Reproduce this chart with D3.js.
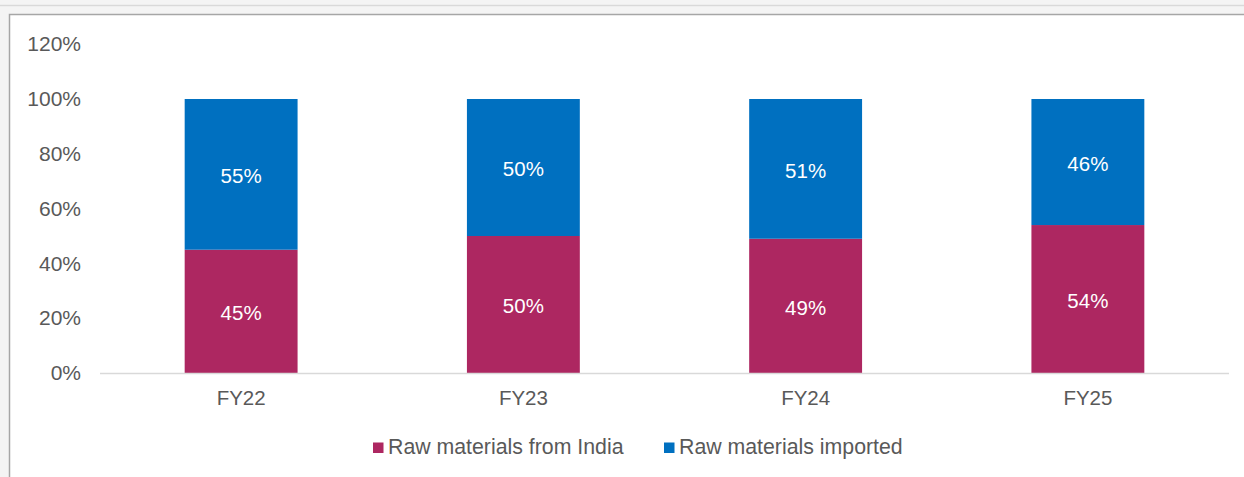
<!DOCTYPE html>
<html>
<head>
<meta charset="utf-8">
<script src="https://cdn.jsdelivr.net/npm/d3@7"></script>
<style>
  html, body { margin: 0; padding: 0; background: #f4f4f4; }
  svg { display: block; }
  text { font-family: "Liberation Sans", Arial, sans-serif; }
</style>
</head>
<body>
<svg id="chart" width="1244" height="477"></svg>
<script>
// Share of raw materials by source, per fiscal year
const categories = ["FY22", "FY23", "FY24", "FY25"];
const fromIndia = [45, 50, 49, 54];
const imported = [55, 50, 51, 46];
const seriesNames = ["Raw materials from India", "Raw materials imported"];
const seriesColors = ["#ad2761", "#0070c0"];
const yTicks = [0, 20, 40, 60, 80, 100, 120];

const svg = d3.select("#chart");
const W = 1244, H = 477;

// page chrome: top strip and card frame
svg.append("rect").attr("x", 0).attr("y", 0).attr("width", W).attr("height", H).attr("fill", "#f4f4f4");
svg.append("line").attr("x1", 0).attr("x2", W).attr("y1", 5.5).attr("y2", 5.5)
  .attr("stroke", "#d9d9d9").attr("stroke-width", 1.5);
svg.append("rect").attr("x", 9.5).attr("y", 14.5).attr("width", W + 10).attr("height", H + 10)
  .attr("fill", "#ffffff").attr("stroke", "#a6a6a6").attr("stroke-width", 1.5);

const x = d3.scaleBand().domain(categories).range([100, 1229]).paddingInner(0.6).paddingOuter(0.3);
const y = d3.scaleLinear().domain([0, 120]).range([373, 44.2]);

// y tick labels (no axis line, no gridlines)
const yAxis = d3.axisLeft(y).tickValues(yTicks).tickFormat(d => d + "%").tickSize(0).tickPadding(0);
const gy = svg.append("g").attr("transform", "translate(81,0)").call(yAxis);
gy.select(".domain").remove();
gy.selectAll("text").attr("font-size", 21).attr("fill", "#595959")
  .attr("font-family", "'Liberation Sans', Arial, sans-serif");

// stacked data
const rows = categories.map((c, i) => ({ cat: c, india: fromIndia[i], imported: imported[i] }));
const stack = d3.stack().keys(["india", "imported"])(rows);

const gBars = svg.append("g");
stack.forEach((layer, li) => {
  gBars.selectAll(null).data(layer).join("rect")
    .attr("x", d => x(d.data.cat))
    .attr("width", x.bandwidth())
    .attr("y", d => y(d[1]))
    .attr("height", d => y(d[0]) - y(d[1]))
    .attr("fill", seriesColors[li]);
  gBars.selectAll(null).data(layer).join("text")
    .attr("x", d => x(d.data.cat) + x.bandwidth() / 2)
    .attr("y", d => (y(d[0]) + y(d[1])) / 2 + 1.5)
    .attr("dy", "0.36em")
    .attr("text-anchor", "middle")
    .attr("font-size", 20.5)
    .attr("fill", "#ffffff")
    .text(d => (d[1] - d[0]) + "%");
});

// x axis baseline and category labels
const xAxis = d3.axisBottom(x).tickSize(0).tickPadding(17);
const gx = svg.append("g").attr("transform", "translate(0,373.5)").call(xAxis);
gx.select(".domain").attr("stroke", "#d9d9d9").attr("stroke-width", 1.5).attr("d", "M100,0H1229");
gx.selectAll("text").attr("font-size", 20.5).attr("fill", "#595959")
  .attr("font-family", "'Liberation Sans', Arial, sans-serif");

// legend
const legendX = [373, 664];
const lg = svg.append("g");
seriesNames.forEach((name, i) => {
  lg.append("rect").attr("x", legendX[i]).attr("y", 442.5).attr("width", 10.5).attr("height", 10.5)
    .attr("fill", seriesColors[i]);
  lg.append("text").attr("x", legendX[i] + 15).attr("y", 446.5).attr("dy", "0.36em")
    .attr("font-size", 21.3).attr("fill", "#595959").text(name);
});
</script>
</body>
</html>
